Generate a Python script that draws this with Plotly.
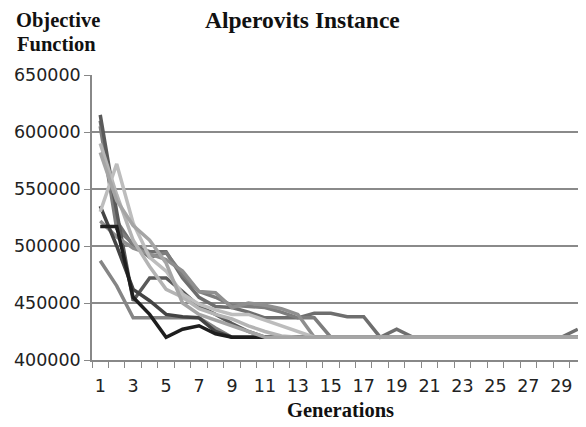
import plotly.graph_objects as go

generations = list(range(1, 31))

s1 = [517000, 517000, 455000, 440000, 420000, 427000, 430000, 423000, 420000] + [420000] * 21
s2 = [487000, 465000, 437000, 437000, 437000, 437000, 437000, 428000, 420000] + [420000] * 21
s3 = [615000, 530000, 452000, 472000, 472000, 460000, 447000, 440000, 432000, 425000, 420000] + [420000] * 19
s4 = [590000, 545000, 505000, 482000, 462000, 455000, 445000, 440000, 436000, 430000, 425000, 421000] + [420000] * 18
s5 = [610000, 522000, 500000, 495000, 495000, 472000, 455000, 447000, 446000, 442000, 437000, 437000, 437000,
      441000, 441000, 438000, 438000, 420000, 427000] + [420000] * 10 + [427000]
s6 = [530000, 572000, 520000, 490000, 478000, 458000, 449000, 444000, 440000, 440000, 435000, 430000, 425000] + [420000] * 17
s7 = [582000, 540000, 518000, 505000, 485000, 450000, 440000, 435000, 430000, 425000, 420000] + [420000] * 19
s8 = [535000, 500000, 462000, 452000, 440000, 438000, 437000, 425000, 420000] + [420000] * 21
s9 = [522000, 508000, 498000, 493000, 488000, 478000, 460000, 459000, 446000, 450000, 448000, 445000, 440000, 420000] + [420000] * 16
s10 = [605000, 515000, 502000, 490000, 494000, 475000, 460000, 455000, 448000, 447000, 446000, 442000, 437000, 437000] + [420000] * 16

series = [s5, s10, s3, s9, s2, s8, s1, s4, s6, s7]
colors = ["#6e6e6e", "#7d7d7d", "#5a5a5a", "#8f8f8f", "#858585", "#444444", "#1e1e1e", "#b4b4b4", "#bdbdbd", "#a5a5a5"]

y_ticks = [400000, 450000, 500000, 550000, 600000, 650000]
x_ticks = list(range(1, 30, 2))

# the page body has an 8px margin; figure sized to fit the 586x427 window
OFF = 8
W, H = 586 - OFF, 427 - OFF
L, T = 92 - OFF, 75 - OFF
R = 0
B = H - (360 - OFF)

fig = go.Figure()
for vals, col in zip(series, colors):
    fig.add_trace(go.Scatter(x=generations, y=vals, mode="lines",
                             line=dict(color=col, width=3.5), showlegend=False))

tick_font = dict(family="DejaVu Sans", size=17.5, color="#222")
fig.update_layout(
    width=W, height=H,
    margin=dict(l=L, r=R, t=T, b=B, pad=0),
    paper_bgcolor="white", plot_bgcolor="white",
    font=tick_font,
)
fig.update_xaxes(
    range=[0.5, 30.5], tickmode="array", tickvals=x_ticks, ticktext=[str(v) for v in x_ticks],
    ticks="", showgrid=False, zeroline=False,
    showline=True, linecolor="#888", linewidth=1.5,
    minor=dict(tick0=0.5, dtick=1, ticks="outside", ticklen=6, tickcolor="#888", tickwidth=1.2, showgrid=False),
    ticklabelstandoff=9,
    tickfont=tick_font,
)
fig.update_yaxes(
    range=[400000, 650000], tickmode="array", tickvals=y_ticks, ticktext=[str(v) for v in y_ticks],
    ticks="outside", ticklen=6, tickcolor="#888", tickwidth=1.2,
    showgrid=True, gridcolor="#8a8a8a", gridwidth=1.5, zeroline=False,
    showline=True, linecolor="#888", linewidth=1.5,
    ticklabelstandoff=0,
    tickfont=tick_font,
)

serif = dict(family="Liberation Serif", size=20.5, color="#111")
texts = [
    ("<b>Alperovits Instance</b>", 302, 20, "center", dict(serif, size=23.5)),
    ("<b>Objective</b>", 14, 20, "left", serif),
    ("<b>Function</b>", 15, 44, "left", serif),
    ("<b>Generations</b>", 340, 410, "center", serif),
]
pw, ph = W - L - R, H - T - B
for txt, px, py, anchor, f in texts:
    fig.add_annotation(text=txt, xref="paper", yref="paper",
                       x=(px - OFF - L) / pw, y=1 - (py - OFF - T) / ph,
                       xanchor=anchor, yanchor="middle", showarrow=False, font=f)

fig.write_html("out.html")
